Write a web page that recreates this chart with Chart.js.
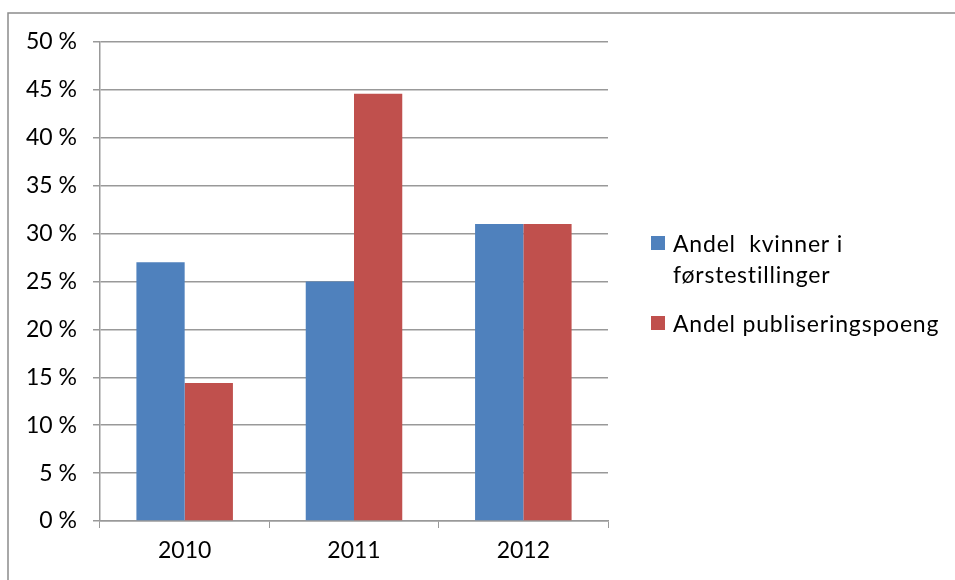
<!DOCTYPE html>
<html><head><meta charset="utf-8">
<script src="https://cdn.jsdelivr.net/npm/chart.js@4"></script>
<style>html,body{margin:0;padding:0;background:#fff;}#wrap{width:955px;height:580px;position:relative;}</style>
</head><body><div id="wrap"><canvas id="c" width="955" height="580"></canvas></div>
<script>
const categories = ['2010', '2011', '2012'];
const kvinnerForstestillinger = [27.0, 25.0, 31.0];
const publiseringspoeng = [14.4, 44.6, 31.0];
const seriesLabels = [['Andel  kvinner i', 'førstest\u200Cillinger'], ['Andel publiseringspoeng']];
const yTicksMax = 50, yTicksStep = 5;

const FONT = 'Lato, "Open Sans", sans-serif';

const frame = {
  id: 'frame',
  beforeDraw(chart) {
    const ctx = chart.ctx;
    ctx.save();
    ctx.fillStyle = '#fff';
    ctx.fillRect(0, 0, chart.width, chart.height);
    ctx.strokeStyle = '#8c8c8c';
    ctx.lineWidth = 1.5;
    ctx.strokeRect(8, 13, 1000, 700);
    ctx.restore();
  }
};

const sideLegend = {
  id: 'sideLegend',
  afterDraw(chart) {
    const ctx = chart.ctx;
    ctx.save();
    ctx.font = '23px ' + FONT;
    try { ctx.letterSpacing = '0.8px'; } catch (e) {}
    ctx.textBaseline = 'alphabetic';
    ctx.fillStyle = '#000';
    const starts = [236, 316];
    chart.data.datasets.forEach((ds, i) => {
      const y0 = starts[i];
      ctx.fillStyle = ds.backgroundColor;
      ctx.fillRect(651, y0, 14, 14);
      ctx.fillStyle = '#000';
      const lines = seriesLabels[i];
      lines.forEach((t, j) => ctx.fillText(t, 673, y0 + 16 + j * 31));
    });
    ctx.restore();
  }
};

new Chart(document.getElementById('c'), {
  type: 'bar',
  data: {
    labels: categories,
    datasets: [
      { label: seriesLabels[0].join(' '), data: kvinnerForstestillinger, backgroundColor: '#4f81bd', borderWidth: 0 },
      { label: seriesLabels[1].join(' '), data: publiseringspoeng, backgroundColor: '#c0504d', borderWidth: 0 }
    ]
  },
  options: {
    responsive: false,
    animation: false,
    devicePixelRatio: 1,
    layout: { padding: { left: 0, right: 347, top: 42, bottom: 0 } },
    datasets: { bar: { categoryPercentage: 0.57, barPercentage: 1.0 } },
    plugins: { legend: { display: false }, tooltip: { enabled: false } },
    scales: {
      x: {
        grid: { display: true, drawOnChartArea: false, drawTicks: true, tickLength: 7, color: '#999', offset: true },
        border: { display: true, color: '#999', width: 1.5 },
        ticks: { color: '#000', font: { family: FONT, size: 23 }, padding: 9 },
        afterFit(s) { s.height = 59; }
      },
      y: {
        min: 0, max: yTicksMax,
        grid: { color: '#999', lineWidth: 1.5, tickLength: 7, drawTicks: true },
        border: { display: true, color: '#999', width: 1.5 },
        ticks: { stepSize: yTicksStep, color: '#000', font: { family: FONT, size: 23 }, padding: 16,
                 callback: v => v + ' %' },
        afterFit(s) { s.width = 100; }
      }
    }
  },
  plugins: [frame, sideLegend]
});
</script></body></html>
